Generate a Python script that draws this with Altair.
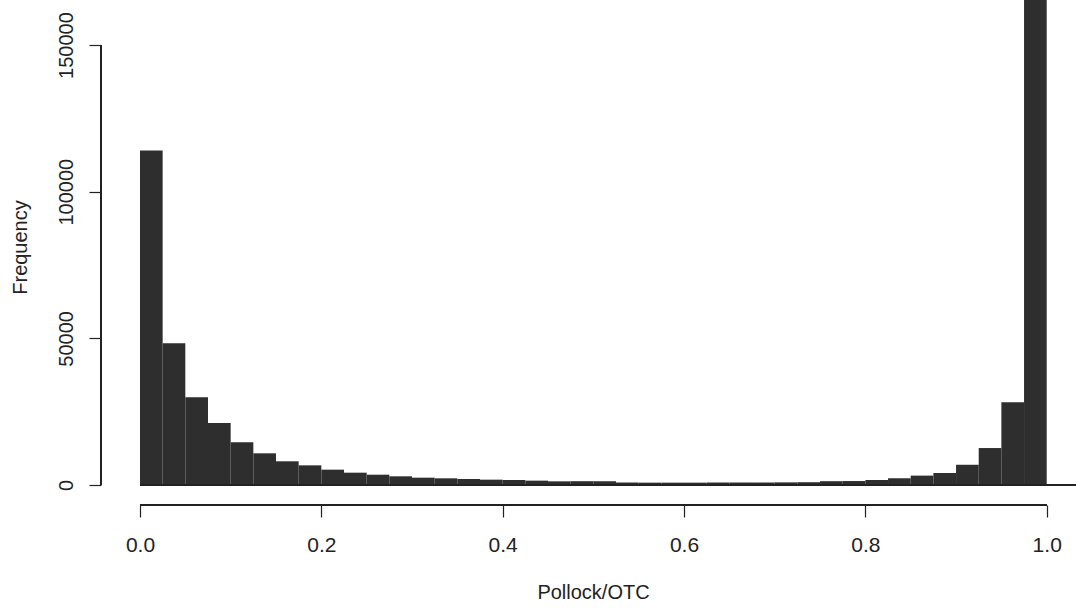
import altair as alt
import pandas as pd

# 40 bins of width 0.025 on [0, 1]
bin_starts = [round(i * 0.025, 3) for i in range(40)]
bin_ends = [round((i + 1) * 0.025, 3) for i in range(40)]
counts = [114000, 48300, 29900, 21100, 14550, 10800, 8080, 6700, 5230, 4200,
          3520, 2960, 2500, 2280, 2050, 1820, 1700, 1480, 1250, 1300,
          1250, 850, 800, 800, 800, 850, 850, 850, 900, 950,
          1300, 1350, 1700, 2300, 3200, 4100, 6900, 12600, 28200, 178000]

x_ticks = [0.0, 0.2, 0.4, 0.6, 0.8, 1.0]
y_ticks = [0, 50000, 100000, 150000]
x_domain = [-0.043, 1.0323]
y_domain = [0, 165341]

df = pd.DataFrame({"start": bin_starts, "end": bin_ends, "count": counts,
                   "base": [0] * len(counts)})

FONT = "Liberation Sans"
W, H = 975, 485

xscale = alt.Scale(domain=x_domain, nice=False, zero=False, padding=0)
yscale = alt.Scale(domain=y_domain, nice=False, padding=0)

bars = alt.Chart(df).mark_bar(color="#2e2e2e", clip=True, orient="vertical").encode(
    x=alt.X("start:Q", scale=xscale,
            axis=alt.Axis(values=x_ticks, format=".1f", domain=False, grid=False,
                          tickSize=12, tickColor="#222", tickWidth=1.2, offset=20,
                          labelFont=FONT, labelFontSize=21, labelColor="#222",
                          labelPadding=17, labelFlush=False,
                          title="Pollock/OTC", titleFont=FONT, titleFontSize=20,
                          titleFontWeight="normal", titleColor="#222",
                          titleX=492, titleY=87, titleBaseline="middle",
                          titleAlign="center")),
    x2="end:Q",
    y=alt.Y("count:Q", scale=yscale,
            axis=alt.Axis(values=y_ticks, format="d", domain=False, grid=False,
                          tickSize=12, tickColor="#222", tickWidth=1.2,
                          labelFont=FONT, labelFontSize=20, labelColor="#222",
                          labelAngle=270, labelAlign="center", labelBaseline="bottom",
                          labelPadding=13,
                          title="Frequency", titleFont=FONT, titleFontSize=20,
                          titleFontWeight="normal", titleColor="#222",
                          titleAngle=270, titleX=-81, titleY=247,
                          titleAlign="center", titleBaseline="middle")),
    y2="base:Q",
)

base_rule = alt.Chart(df).mark_rule(color="#222", strokeWidth=1.2).encode(
    x=alt.datum(0, scale=xscale), x2=alt.value(W), y=alt.datum(0)
)

y_axis_line = alt.Chart(df).mark_rule(color="#222", strokeWidth=1.2).encode(
    x=alt.value(0), y=alt.datum(0), y2=alt.datum(150000)
)

x_axis_line = alt.Chart(df).mark_rule(color="#222", strokeWidth=1.2).encode(
    x=alt.datum(0), x2=alt.datum(1.0), y=alt.value(H + 20)
)

chart = alt.layer(bars, base_rule, y_axis_line, x_axis_line).properties(
    width=W, height=H,
    autosize=alt.AutoSizeParams(type="none"),
    padding={"left": 101, "top": 0, "right": 0, "bottom": 123},
    background="white",
).configure_view(stroke=None)

chart.save("out.html", embed_options={"renderer": "svg", "actions": False})
